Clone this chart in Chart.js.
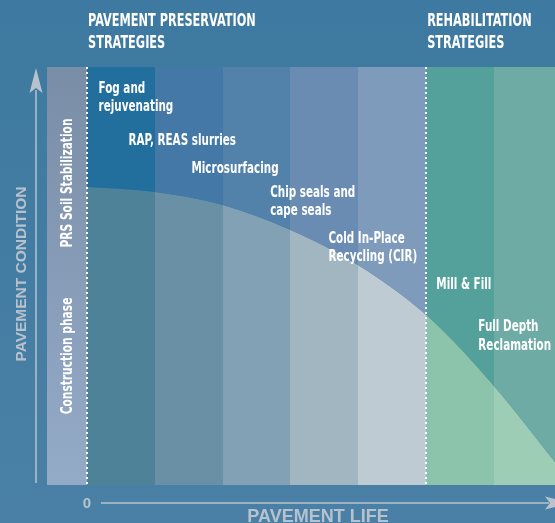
<!DOCTYPE html>
<html>
<head>
<meta charset="utf-8">
<script src="https://cdn.jsdelivr.net/npm/chart.js@4.4.1/dist/chart.umd.min.js"></script>
<style>
  html, body { margin: 0; padding: 0; background: #437ca3; }
  #wrap { width: 555px; height: 523px; }
</style>
</head>
<body>
<div id="wrap"><canvas id="pavementChart" width="555" height="523"></canvas></div>
<script>
// pavement life, in treatment steps after construction (0 = end of construction)
var lifeSteps = [0, 1, 2, 3, 4, 5, 6, 6.9];
// pavement condition (0-100)
var conditionValues = [71.3, 70.1, 67.0, 61.0, 52.6, 40.7, 23.7, 5.5];
// treatment bands along the life axis
var bandEdges = [0, 1, 2, 3, 4, 5, 6, 7];
var constructionEnd = 0;
var rehabStart = 5;

var bandTopColors = ['#226f9e', '#4478a6', '#5282aa', '#6a8cb2', '#7e9bbb', '#54a09a', '#6daba4'];
var bandLowColors = ['#4e8299', '#6990a4', '#83a1b4', '#a2b6c2', '#bfcbd2', '#8cc4ab', '#9dceb5'];

var strategyLabels = [
    { lines: ['Fog and', 'rejuvenating'], life: 0.17, condition: 93.8 },
    { lines: ['RAP, REAS slurries'], life: 0.61, condition: 81.3 },
    { lines: ['Microsurfacing'], life: 1.54, condition: 74.6 },
    { lines: ['Chip seals and', 'cape seals'], life: 2.7, condition: 68.9 },
    { lines: ['Cold In-Place', 'Recycling (CIR)'], life: 3.56, condition: 57.9 },
    { lines: ['Mill & Fill'], life: 5.15, condition: 46.9 },
    { lines: ['Full Depth', 'Reclamation'], life: 5.77, condition: 36.8 }
];

var condensed = '"Liberation Sans Narrow", "DejaVu Sans Condensed", "Liberation Sans", sans-serif';
var axisGrey = '#b7c2cc';

function bandGradient(chart, colors) {
    var area = chart.chartArea;
    var xs = chart.scales.x;
    if (!area || !xs) return colors[0];
    var g = chart.ctx.createLinearGradient(area.left, 0, area.right, 0);
    var w = area.right - area.left;
    for (var i = 0; i < colors.length; i++) {
        var a = Math.min(1, Math.max(0, (xs.getPixelForValue(bandEdges[i]) - area.left) / w));
        var b = Math.min(1, Math.max(0, (xs.getPixelForValue(bandEdges[i + 1]) - area.left) / w));
        g.addColorStop(a, colors[i]);
        g.addColorStop(b, colors[i]);
    }
    return g;
}

function squeezeText(ctx, text, x, y, sx) {
    ctx.save();
    ctx.translate(x, y);
    ctx.scale(sx, 1);
    ctx.fillText(text, 0, 0);
    ctx.restore();
}

var backdrop = {
    id: 'backdrop',
    beforeDraw: function (chart) {
        var ctx = chart.ctx;
        var area = chart.chartArea;
        var xs = chart.scales.x;
        ctx.save();
        var bg = ctx.createLinearGradient(0, 0, 0, chart.height);
        bg.addColorStop(0, '#3d79a0');
        bg.addColorStop(1, '#4a80a6');
        ctx.fillStyle = bg;
        ctx.fillRect(0, 0, chart.width, chart.height);

        // construction phase band
        var x0 = xs.getPixelForValue(xs.min);
        var x1 = xs.getPixelForValue(constructionEnd);
        var cg = ctx.createLinearGradient(0, area.top, 0, area.bottom);
        cg.addColorStop(0, '#7a8da6');
        cg.addColorStop(1, '#94abc8');
        ctx.fillStyle = cg;
        ctx.fillRect(x0, area.top, x1 - x0, area.bottom - area.top);
        ctx.restore();
    },
    afterDatasetsDraw: function (chart) {
        var ctx = chart.ctx;
        var area = chart.chartArea;
        var xs = chart.scales.x;
        var ys = chart.scales.y;
        ctx.save();

        // dotted dividers
        ctx.strokeStyle = '#ffffff';
        ctx.lineWidth = 2;
        ctx.setLineDash([2, 3]);
        [constructionEnd, rehabStart].forEach(function (v) {
            var px = Math.round(xs.getPixelForValue(v));
            ctx.beginPath();
            ctx.moveTo(px, area.top);
            ctx.lineTo(px, area.bottom);
            ctx.stroke();
        });
        ctx.setLineDash([]);

        // strategy labels
        ctx.fillStyle = '#ffffff';
        ctx.font = 'bold 15px ' + condensed;
        ctx.textAlign = 'left';
        ctx.textBaseline = 'alphabetic';
        strategyLabels.forEach(function (l) {
            var px = xs.getPixelForValue(l.life);
            var py = ys.getPixelForValue(l.condition);
            l.lines.forEach(function (t, i) {
                squeezeText(ctx, t, px, py + i * 18.5, 0.77);
            });
        });

        // vertical labels in construction band
        var cx = (xs.getPixelForValue(xs.min) + xs.getPixelForValue(constructionEnd)) / 2;
        ctx.textAlign = 'center';
        ctx.textBaseline = 'middle';
        [['PRS Soil Stabilization', 183], ['Construction phase', 356]].forEach(function (d) {
            ctx.save();
            ctx.translate(cx + 1, d[1]);
            ctx.rotate(-Math.PI / 2);
            ctx.scale(0.79, 1);
            ctx.fillText(d[0], 0, 0);
            ctx.restore();
        });

        // titles
        ctx.textAlign = 'left';
        ctx.textBaseline = 'alphabetic';
        ctx.font = 'bold 17px ' + condensed;
        var tx1 = xs.getPixelForValue(constructionEnd) + 1;
        var tx2 = xs.getPixelForValue(rehabStart) + 1;
        squeezeText(ctx, 'PAVEMENT PRESERVATION', tx1, 26, 0.74);
        squeezeText(ctx, 'STRATEGIES', tx1, 48, 0.74);
        squeezeText(ctx, 'REHABILITATION', tx2, 26, 0.74);
        squeezeText(ctx, 'STRATEGIES', tx2, 48, 0.74);

        // axes
        ctx.strokeStyle = axisGrey;
        ctx.fillStyle = axisGrey;
        ctx.lineWidth = 1.5;
        ctx.beginPath();
        ctx.moveTo(36, 90);
        ctx.lineTo(36, area.bottom - 2);
        ctx.moveTo(101, 503);
        ctx.lineTo(549, 503);
        ctx.stroke();
        ctx.beginPath();
        ctx.moveTo(36, 68);
        ctx.lineTo(42.5, 93);
        ctx.lineTo(36, 88);
        ctx.lineTo(29.5, 93);
        ctx.closePath();
        ctx.fill();
        ctx.beginPath();
        ctx.moveTo(570, 503);
        ctx.lineTo(545, 509.5);
        ctx.lineTo(550, 503);
        ctx.lineTo(545, 496.5);
        ctx.closePath();
        ctx.fill();

        ctx.font = 'bold 15px "Liberation Sans", sans-serif';
        ctx.textAlign = 'center';
        ctx.textBaseline = 'alphabetic';
        ctx.fillText('0', xs.getPixelForValue(0), 508);
        ctx.font = 'bold 18px "Liberation Sans", sans-serif';
        ctx.fillText('PAVEMENT LIFE', 318, 522);

        ctx.save();
        ctx.translate(26, 274);
        ctx.rotate(-Math.PI / 2);
        ctx.font = 'bold 15.5px "Liberation Sans", sans-serif';
        ctx.textAlign = 'center';
        ctx.textBaseline = 'alphabetic';
        ctx.fillText('PAVEMENT CONDITION', 0, 0);
        ctx.restore();

        ctx.restore();
    }
};

var points = lifeSteps.map(function (x, i) { return { x: x, y: conditionValues[i] }; });

new Chart(document.getElementById('pavementChart').getContext('2d'), {
    type: 'line',
    data: {
        datasets: [{
            label: 'above curve',
            data: points,
            fill: 'end',
            backgroundColor: function (c) { return bandGradient(c.chart, bandTopColors); },
            borderWidth: 0,
            pointRadius: 0,
            cubicInterpolationMode: 'monotone'
        }, {
            label: 'pavement condition',
            data: points,
            fill: 'start',
            backgroundColor: function (c) { return bandGradient(c.chart, bandLowColors); },
            borderWidth: 0,
            pointRadius: 0,
            cubicInterpolationMode: 'monotone'
        }]
    },
    options: {
        responsive: false,
        animation: false,
        devicePixelRatio: 1,
        layout: { padding: { left: 47, right: 0, top: 67, bottom: 38 } },
        plugins: { legend: { display: false }, tooltip: { enabled: false } },
        scales: {
            x: { type: 'linear', min: -0.59, max: 6.9, display: false },
            y: { min: 0, max: 100, display: false }
        }
    },
    plugins: [backdrop]
});
</script>
</body>
</html>
